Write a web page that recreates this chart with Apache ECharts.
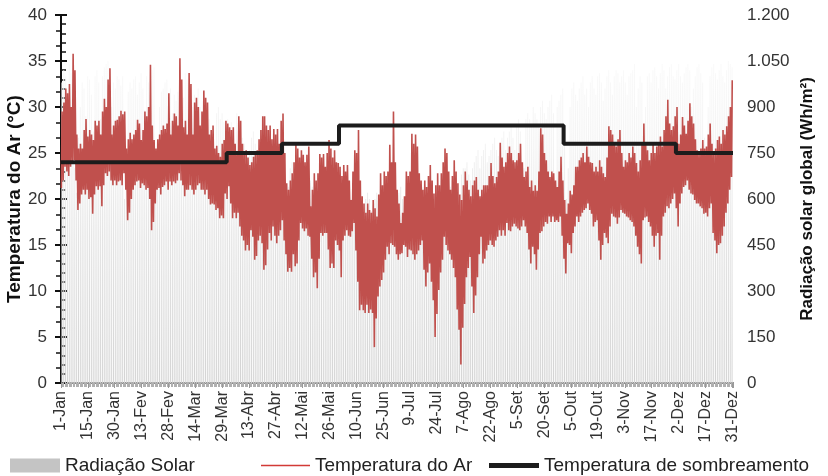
<!DOCTYPE html>
<html>
<head>
<meta charset="utf-8">
<script src="https://cdn.jsdelivr.net/npm/echarts@6/dist/echarts.min.js"></script>
<style>html,body{margin:0;padding:0;background:#fff;}#c{width:828px;height:476px;}</style>
</head>
<body>
<div id="c"></div>
<script>
// x-axis tick labels (every 350 hours)
const xTickLabels = ['1-Jan','15-Jan','30-Jan','13-Fev','28-Fev','14-Mar','29-Mar','13-Abr','27-Abr','12-Mai','26-Mai','10-Jun','25-Jun','9-Jul','24-Jul','7-Ago','22-Ago','5-Set','20-Set','5-Out','19-Out','3-Nov','17-Nov','2-Dez','17-Dez','31-Dez'];

// Daily maximum air temperature (°C), day 0 = 1-Jan
const tMax = [
29.5,30.5,32,31.5,32.5,30,35.8,34,27,25.5,
26,25.5,27.5,28.7,26.8,27.5,27,26.4,28.5,28,
28.5,27,29.5,30.9,30,33,34.2,27,28,28.5,
28.6,29,29.6,29.2,29.5,25.5,26.5,27.2,26.5,27,
27.5,28.6,28.2,26.4,27.5,29.5,29,30,34.6,28,
26.4,25.5,26.5,27,27.5,28,27.6,28.2,31.5,27,
28.5,29.3,29,28,35.3,33,27.8,28.5,27,33.7,
32.5,27,30.5,31,30,28,29.5,31.8,31,30.5,
27,27.5,28,25.5,25.8,25,24.6,26,26.4,28.5,
28.2,27.8,27.5,27.8,26,24.9,29,28.5,26,24.9,
25.3,24.5,23.7,24,24.6,25,25.3,26.5,27.5,29,
29,28,27.5,28,26.5,27.6,27,27.6,26,28.5,
29.3,25,21.7,21,22,22.8,24,26,25.5,24.5,
25.3,24.8,24,24.8,25.7,19.2,21,22.8,22,22.8,
24.9,24.5,24.9,23.5,25,26.4,25.5,24.5,25.3,24,
23.9,23.5,22.5,23.7,23,23.7,22,19.9,23,25.3,
25,27.5,22,20.3,19.5,18.5,19.5,18.8,18.5,19.9,
19,18.1,20.5,22.8,21.5,23,22.5,23,25.9,24,
29.5,24,21,19.5,17.4,18.5,20.3,23,22.5,23,
27.1,26,27,25.7,22.8,22,21,22,21.3,22.5,
23.7,22,20.6,21.5,22.8,21.5,22.8,24,25.5,25,
23,21,22.5,24.2,23,21.7,20.5,19.9,21.5,23,
22,21,20.3,21.5,22,22.4,21,20.3,21,21.5,
21.5,21.5,22.5,23.9,22.5,21.7,22.4,23,26.1,24.5,
23.5,24,25,25.7,25,24.2,24,24.2,25,26,
24,22.4,23,23.5,21.3,22,20.9,21.5,20.9,23,
27.7,27,25,24.2,23,22.4,23,22.8,22,21.3,
23,24.6,22,19.9,18.4,19.5,20.9,20.5,21.5,23.5,
23.5,24.2,24.5,25,24,25.7,24.6,24,23.9,23,
23.5,23,24.2,23.5,22.8,22.4,24.5,27.9,27.5,27,
26,25.7,26.5,27.5,25,23.5,24.2,24,25,24.5,
25.7,25,23.9,23,24.2,26,28.2,26,25.3,24.2,
25,26,25,25.7,26,26.8,25.7,27.5,29,30.8,
28.2,27.5,27.9,29,30,26,27,28.9,28,27.1,
28.5,30.4,29,28.2,26.5,25.3,24.9,25.5,26.4,25.5,
25.7,27,28.2,26,24.9,25.5,26.4,26.8,26,27.5,
27,27.9,29,30,32.9
];

// Daily minimum air temperature (°C)
const tMin = [
21.2,22,23.5,23,22.5,23.5,24,24.2,22,18.8,
19.5,20.5,21,20.5,21,20,20.2,18.4,20.5,21.4,
21,21.4,19.2,21.5,22.8,22.5,23,22,21.5,22,
21.5,21.9,22,21.5,22.8,21,17.7,18.5,20,21,
21.5,21.9,22,21.2,21.7,21.5,21,21.2,20,16.6,
17.5,19.5,21,21.2,20.5,21.3,21.5,21.9,21,21.9,
21.5,21.9,21.7,22,22.8,22,21.5,20.3,21,21,
21.5,21,20.5,21,21.5,21.7,21,21,20.5,21,
20,19.4,19.5,19.4,18.8,19,17.9,18.2,17.9,20.6,
20,21.4,19.5,17.9,18.5,17.9,18.5,17,16,15.5,
14.4,15,14.4,16.6,15.9,13.4,13.8,15.5,16,15.2,
12.3,12.8,14.5,16.3,15.5,17,16,15.2,16,16.6,
17.7,15.5,14,12.1,12.5,12.1,14,12.7,13,15.5,
17.4,16.8,16.5,16.8,16,15.9,13.5,11.5,12,10.3,
13.5,16.3,16,16.3,16.3,14.5,12.5,13,12.5,15.5,
15,14.4,11.5,15.5,16,16.6,16,15.9,16.5,17.4,
14.4,11,7.9,8.5,7.9,7.6,8.5,7.6,8,7.6,
3.9,7,9.4,10.5,11.2,12,13.4,14.8,14,15.2,
15,14.8,14,13.4,14,14.1,15,14.8,13.7,14.5,
14.4,14,13.4,14,14.4,15,15.5,12.3,10.5,12,
13,11,9,5,7.5,10.1,12,13.4,15.9,15,
14.4,14,13.4,12.5,11.5,8,5.8,2,6,8.6,
11.5,12.5,13.7,10.5,7.6,9.5,11.5,14,15.9,13,
13.5,14.4,15,15.5,15,14.8,15.5,15.9,16.6,16,
16.6,16,17.4,16.6,16.5,17,17.3,17,16.8,16.6,
17,17.7,17,16.3,14.5,13,14.8,14,12.3,14.5,
16.3,16.5,17,17.5,17.3,18.1,17.5,18.1,17.5,17.7,
17.5,18.1,16,13.5,11.9,15.2,15,14.1,16.3,17,
18.1,17.5,18.1,18.5,18.8,19,19.5,18.8,18.4,17,
17.5,17.7,15.5,13.4,15,16.3,15.8,15.2,17,18.4,
18.1,18,17.3,18,18.8,18.5,18.4,18.1,18,17.7,
17.5,17,16,14.8,14,13,17.7,18,18.1,17.5,
17,16,14.8,16,16.3,13.4,16,18.1,18.5,19.2,
19,19.5,20,20.6,19,17,19.5,20.6,21.3,21.5,
22,21,20.6,20.5,19.9,19.5,19.5,19.2,19,18.4,
18.5,18.1,19,19.5,16.3,15.5,14.1,15,15.2,16,
17,18.5,19.5,21,22.4
];

// Daily peak global solar radiation (Wh/m²)
const radPeak = [
980,1020,1000,950,1040,1010,1050,700,620,800,900,980,960,870,1000,990,940,820,1000,1020,980,860,1000,1030,1040,1050,760,900,980,960,1000,
990,970,1000,600,720,950,980,960,990,1000,940,980,1010,960,890,1000,980,940,1020,1030,700,760,900,950,960,980,990,940,
960,880,940,920,950,700,900,930,1010,990,980,960,900,940,920,960,900,870,930,910,880,860,700,650,700,880,900,860,880,850,840,
860,820,850,800,600,880,860,820,800,780,760,700,760,800,820,780,750,740,760,720,700,780,760,740,700,650,720,760,740,720,
720,600,500,640,700,720,690,680,660,500,620,680,700,680,650,660,640,620,600,560,640,660,640,620,600,650,640,560,600,620,640,
620,600,620,580,560,500,600,640,620,600,580,400,450,500,600,620,600,560,580,600,620,600,540,580,560,600,620,640,600,560,
580,600,620,640,600,500,560,600,620,640,650,600,580,560,600,640,660,600,620,500,450,560,620,640,620,660,680,640,620,600,640,
660,680,500,400,600,680,700,700,720,680,660,700,720,740,760,700,740,760,780,720,740,760,780,800,760,740,780,800,820,760,800,
820,840,800,760,840,860,820,600,700,860,880,860,840,900,880,860,840,900,920,880,860,900,920,940,880,620,900,920,940,960,
800,600,700,900,960,980,940,920,960,980,1000,940,960,900,980,1000,960,940,1000,1010,980,920,960,1000,1020,980,940,1000,1020,1010,980,
1000,1020,980,940,1000,1010,1020,1040,900,960,1000,980,760,900,1000,1010,980,1020,1030,1000,960,1010,1040,1020,960,1000,1030,1040,1000,990,
1020,1040,1000,980,1010,1030,1040,1020,900,960,1000,1030,1040,1010,980,800,700,900,1000,1030,1040,1010,990,1020,1040,1000,980,1020,1050,1040,1030
];

// Shading temperature steps: start day and value
const shadeStartDay = [0, 90, 120, 151, 273, 334, 365];
const shadeTemp = [24, 25, 26, 28, 26, 25, 25];

const FONT = 'Liberation Sans, Arial, sans-serif';

const tempData = [];
for (let d = 0; d < tMax.length; d++) {
  tempData.push([d * 24 + 5, tMin[d]]);
  tempData.push([d * 24 + 14, tMax[d]]);
}
const radData = radPeak.map((v, d) => [d * 24 + 12, v]);
const shadeData = shadeStartDay.map((d, i) => [d * 24, shadeTemp[i]]);

const legendText = {fontFamily: FONT, fontSize: 19, color: '#222'};

const chart = echarts.init(document.getElementById('c'), null, {renderer: 'canvas'});
chart.setOption({
  animation: false,
  backgroundColor: '#fff',
  grid: {left: 61, right: 95, top: 15, bottom: 93, containLabel: false, outerBoundsMode: 'none'},
  legend: [
    {left: 5, top: 451, itemWidth: 50, itemHeight: 14, icon: 'rect', textStyle: legendText,
     data: [{name: 'Radiação Solar', itemStyle: {color: '#c4c4c4'}}]},
    {left: 256, top: 451, itemWidth: 49, itemHeight: 1.5, icon: 'rect', textStyle: legendText,
     data: [{name: 'Temperatura do Ar', itemStyle: {color: '#d23a36'}}]},
    {left: 484, top: 451, itemWidth: 50, itemHeight: 5, icon: 'rect', textStyle: legendText,
     data: [{name: 'Temperatura de sombreamento', itemStyle: {color: '#1c1c1c'}}]}
  ],
  xAxis: [{
    type: 'value', min: 0, max: 8760, interval: 350,
    axisLine: {show: true, lineStyle: {color: '#9a9a9a', width: 2}},
    axisTick: {show: true, length: 5, lineStyle: {color: '#9a9a9a'}},
    minorTick: {show: true, splitNumber: 20, length: 4, lineStyle: {color: '#b0b0b0'}},
    splitLine: {show: false},
    axisLabel: {
      rotate: 90, fontFamily: FONT, fontSize: 16, color: '#333', margin: 8,
      showMaxLabel: false,
      formatter: function (v) {
        const i = Math.round(v / 350);
        return (Math.abs(v - i * 350) < 0.5 && i < xTickLabels.length) ? xTickLabels[i] : '';
      }
    }
  }, {
    type: 'value', min: 0, max: 8760, position: 'top',
    axisLine: {show: true, lineStyle: {color: '#8a8a8a', width: 2}},
    axisTick: {show: false}, axisLabel: {show: false}, splitLine: {show: false}
  }],
  yAxis: [{
    type: 'value', min: 0, max: 40, interval: 5,
    name: 'Temperatura do Ar (°C)', nameLocation: 'middle', nameGap: 37, nameRotate: 90,
    nameMoveOverlap: false,
    nameTextStyle: {fontFamily: FONT, fontSize: 19, fontWeight: 'bold', color: '#111'},
    axisLine: {show: true, lineStyle: {color: '#111', width: 2}},
    axisTick: {show: true, inside: true, length: 6, lineStyle: {color: '#111', width: 2}},
    minorTick: {show: true, splitNumber: 5, length: 5, lineStyle: {color: '#111', width: 1.5}},
    splitLine: {show: false},
    axisLabel: {fontFamily: FONT, fontSize: 17, color: '#333', margin: 14}
  }, {
    type: 'value', min: 0, max: 1200, interval: 150, position: 'right',
    name: 'Radiação solar global (Wh/m²)', nameLocation: 'middle', nameGap: 66, nameRotate: 90,
    nameMoveOverlap: false,
    nameTextStyle: {fontFamily: FONT, fontSize: 17, fontWeight: 'bold', color: '#111'},
    axisLine: {show: true, lineStyle: {color: '#111', width: 2}},
    axisTick: {show: true, inside: true, length: 6, lineStyle: {color: '#111', width: 2}},
    minorTick: {show: true, splitNumber: 3, length: 5, lineStyle: {color: '#111', width: 1.5}},
    splitLine: {show: false},
    axisLabel: {
      fontFamily: FONT, fontSize: 17, color: '#333', margin: 14,
      formatter: function (v) {
        return v >= 1000 ? Math.floor(v / 1000) + '.' + String(v % 1000).padStart(3, '0') : String(v);
      }
    }
  }],
  series: [{
    name: 'Radiação Solar', type: 'bar', xAxisIndex: 0, yAxisIndex: 1,
    data: radData, barWidth: 1, z: 1,
    itemStyle: {
      color: {
        type: 'linear', x: 0, y: 15, x2: 0, y2: 383, global: true,
        colorStops: [
          {offset: 0, color: '#fdfdfd'},
          {offset: 0.35, color: '#f3f3f3'},
          {offset: 0.6, color: '#e3e3e3'},
          {offset: 1, color: '#d3d3d3'}
        ]
      }
    }
  }, {
    name: 'Temperatura do Ar', type: 'line', xAxisIndex: 0, yAxisIndex: 0,
    data: tempData, symbol: 'none', showSymbol: false, z: 3,
    lineStyle: {color: '#c0504d', width: 1.6},
    itemStyle: {color: '#c0504d'}
  }, {
    name: 'Temperatura de sombreamento', type: 'line', xAxisIndex: 0, yAxisIndex: 0,
    data: shadeData, step: 'end', symbol: 'none', showSymbol: false, z: 5,
    lineStyle: {color: '#1c1c1c', width: 4},
    itemStyle: {color: '#1c1c1c'}
  }]
});
</script>
</body>
</html>
